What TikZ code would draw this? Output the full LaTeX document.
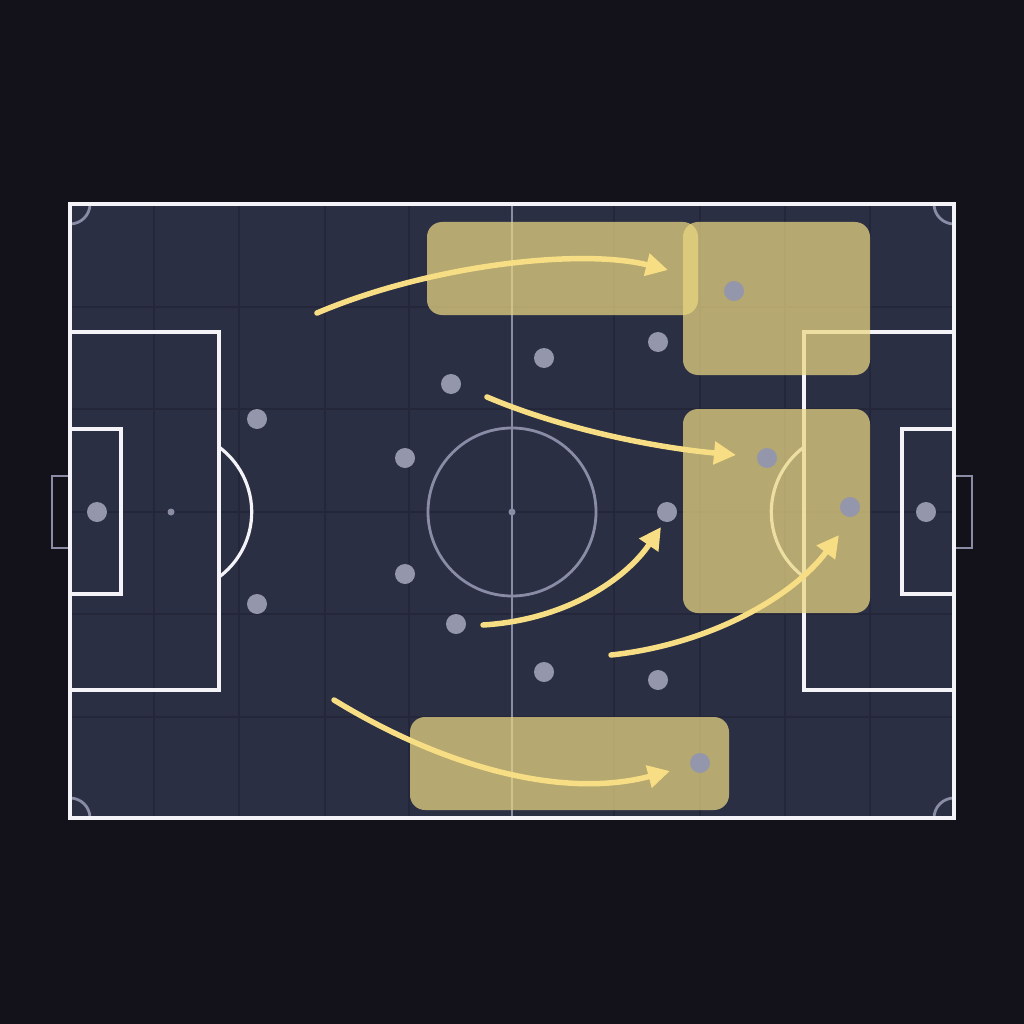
\documentclass[tikz,border=0pt]{standalone}
\usetikzlibrary{arrows.meta}
\definecolor{bgc}{HTML}{13121B}
\definecolor{pitchc}{HTML}{2B2F44}
\definecolor{gridc}{HTML}{24273A}
\definecolor{linec}{HTML}{F4F4F8}
\definecolor{grayl}{HTML}{8A8CA6}
\definecolor{dotc}{HTML}{9496AC}
\definecolor{zonec}{RGB}{235,215,130}
\definecolor{arrc}{HTML}{F7DE85}
\tikzset{
  whiteline/.style={draw=linec,line width=3.2pt},
  grayline/.style={draw=grayl,line width=2.8pt},
  gridline/.style={draw=gridc,line width=1.5pt},
  zone/.style={fill=zonec,fill opacity=0.72,rounded corners=15pt,draw=none},
  player/.style={circle,fill=dotc,inner sep=0pt,minimum size=20pt,draw=none},
  spot/.style={circle,fill=grayl,inner sep=0pt,minimum size=7pt,draw=none},
  run/.style={draw=arrc,line width=5.5pt,line cap=round,-{Triangle[length=22pt,width=22pt]}},
}
\begin{document}
\begin{tikzpicture}[x=1pt,y=-1pt]
\useasboundingbox (0,0) rectangle (1024,1024);
\fill[bgc] (0,0) rectangle (1024,1024);
% pitch
\fill[pitchc] (70,204) rectangle (954,818);
% grid
\foreach \gx in {154,239,325,409,614,700,785,870}
  \draw[gridline] (\gx,206) -- (\gx,816);
\foreach \gy in {307,409,512,614,717}
  \draw[gridline] (72,\gy) -- (952,\gy);
% centre
\draw[grayline] (512,205) -- (512,817);
\draw[grayline] (512,512) circle[radius=84];
\node[spot] (cspot) at (512,512) {};
% goals
\draw[grayline] (70,476) -- (52,476) -- (52,548) -- (70,548);
\draw[grayline] (954,476) -- (972,476) -- (972,548) -- (954,548);
% corner arcs
\draw[grayline] (90,204) arc[start angle=0,end angle=90,radius=20];
\draw[grayline] (934,204) arc[start angle=180,end angle=90,radius=20];
\draw[grayline] (90,818) arc[start angle=0,end angle=-90,radius=20];
\draw[grayline] (934,818) arc[start angle=180,end angle=270,radius=20];
% left end
\draw[whiteline] (70,332) -- (219,332) -- (219,690) -- (70,690);
\draw[whiteline] (70,429) -- (121,429) -- (121,594) -- (70,594);
\draw[whiteline] (219,447) arc[start angle=-53.4,end angle=53.4,radius=81];
\node[spot] (lspot) at (171,512) {};
% right end
\draw[whiteline] (954,332) -- (804,332) -- (804,690) -- (954,690);
\draw[whiteline] (954,429) -- (902,429) -- (902,594) -- (954,594);
\draw[whiteline] (804,447) arc[start angle=233.4,end angle=126.6,radius=81];
% outline
\draw[whiteline] (70,204) rectangle (954,818);
% zones
\fill[zone] (427,222) rectangle (698,315);
\fill[zone] (683,222) rectangle (870,375);
\fill[zone] (683,409) rectangle (870,613);
\fill[zone] (410,717) rectangle (729,810);
% players
\node[player] (gkl) at (97,512) {};
\node[player] (p1) at (257,419) {};
\node[player] (p2) at (257,604) {};
\node[player] (p3) at (405,458) {};
\node[player] (p4) at (405,574) {};
\node[player] (p5) at (451,384) {};
\node[player] (p6) at (456,624) {};
\node[player] (p7) at (544,358) {};
\node[player] (p8) at (544,672) {};
\node[player] (p9) at (658,342) {};
\node[player] (p10) at (658,680) {};
\node[player] (p11) at (667,512) {};
\node[player] (p12) at (734,291) {};
\node[player] (p13) at (767,458) {};
\node[player] (p14) at (850,507) {};
\node[player] (gkr) at (926,512) {};
\node[player] (p15) at (700,763) {};
% runs
\coordinate (s1) at (317,313);
\coordinate (t1) at (668,270);
\coordinate (s2) at (487,397);
\coordinate (t2) at (736,455);
\coordinate (s3) at (483,625);
\coordinate (t3) at (661,527);
\coordinate (s4) at (611,655);
\coordinate (t4) at (839,535);
\coordinate (s5) at (334,700);
\coordinate (t5) at (670,771);
\draw[run] (s1) .. controls (430,265) and (580,248) .. (t1);
\draw[run] (s2) .. controls (560,428) and (650,447) .. (t2);
\draw[run] (s3) .. controls (565,620) and (625,580) .. (t3);
\draw[run] (s4) .. controls (705,645) and (790,600) .. (t4);
\draw[run] (s5) .. controls (440,765) and (560,800) .. (t5);
\end{tikzpicture}
\end{document}
